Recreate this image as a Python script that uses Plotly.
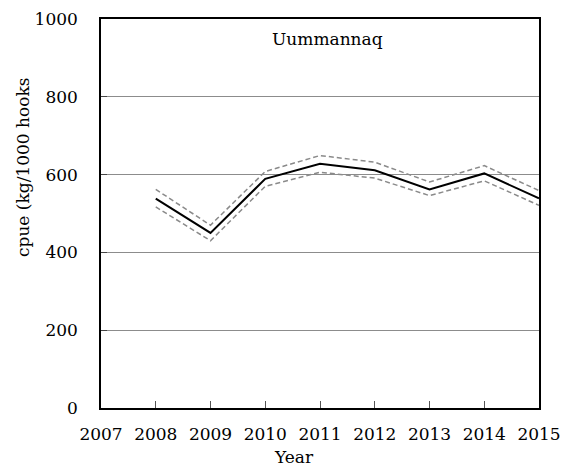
import plotly.graph_objects as go

years = [2008, 2009, 2010, 2011, 2012, 2013, 2014, 2015]
cpue = [538, 450, 589, 628, 611, 562, 603, 539]
upper = [562, 470, 608, 649, 632, 581, 623, 559]
lower = [517, 430, 570, 606, 591, 546, 584, 521]
x_ticks = [2007, 2008, 2009, 2010, 2011, 2012, 2013, 2014, 2015]
y_ticks = [0, 200, 400, 600, 800, 1000]

FONT = "DejaVu Serif"
L, R, T, B = 101, 24, 19, 62
W, H = 563, 470
plot_w = W - L - R
plot_h = H - T - B

def px_x(px):
    return (px - L) / plot_w

def px_y(py):
    return (H - B - py) / plot_h

fig = go.Figure()
fig.add_trace(go.Scatter(x=years, y=upper, mode="lines",
                         line=dict(color="#8a8a8a", width=1.5, dash="5px,3px"),
                         showlegend=False))
fig.add_trace(go.Scatter(x=years, y=lower, mode="lines",
                         line=dict(color="#8a8a8a", width=1.5, dash="5px,3px"),
                         showlegend=False))
fig.add_trace(go.Scatter(x=years, y=cpue, mode="lines",
                         line=dict(color="black", width=2),
                         showlegend=False))

fig.update_layout(
    width=W, height=H,
    margin=dict(l=L, r=R, t=T, b=B),
    paper_bgcolor="white", plot_bgcolor="white",
    font=dict(family=FONT, size=17, color="black"),
    xaxis=dict(range=[2007, 2015], tickvals=x_ticks, ticktext=[str(v) for v in x_ticks],
               ticks="inside", ticklen=7, tickcolor="#555", showgrid=False,
               showline=True, linecolor="black", linewidth=1.5, mirror=True,
               zeroline=False, ticklabelstandoff=10, automargin=False),
    yaxis=dict(range=[0, 1000], tickvals=y_ticks, ticks="inside", ticklen=6,
               tickcolor="#444", showgrid=True, gridcolor="#8c8c8c", gridwidth=1,
               showline=True, linecolor="black", linewidth=1.5, mirror=True,
               zeroline=False, ticklabelstandoff=18, automargin=False),
    annotations=[
        dict(text="Uummannaq", x=px_x(327), y=px_y(39), xref="paper", yref="paper",
             showarrow=False, font=dict(size=17), xanchor="center", yanchor="middle"),
        dict(text="cpue (kg/1000 hooks", x=px_x(23), y=px_y(168), xref="paper", yref="paper",
             showarrow=False, textangle=-90, font=dict(size=17),
             xanchor="center", yanchor="middle"),
        dict(text="Year", x=px_x(294), y=px_y(457), xref="paper", yref="paper",
             showarrow=False, font=dict(size=17), xanchor="center", yanchor="middle"),
    ],
)

fig.write_html("out.html", config={"displayModeBar": False},
               post_script="document.body.style.margin='0';document.body.style.padding='0';")
